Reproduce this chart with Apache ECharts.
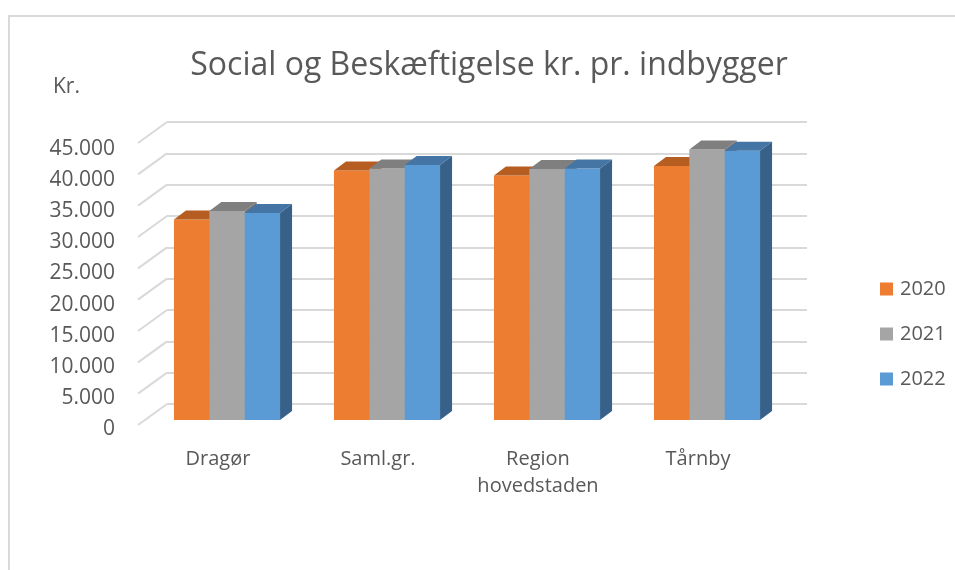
<!DOCTYPE html>
<html>
<head>
<meta charset="utf-8">
<script src="https://cdn.jsdelivr.net/npm/echarts@6/dist/echarts.min.js"></script>
<style>html,body{margin:0;padding:0;background:#fff}#c{width:955px;height:570px}</style>
</head>
<body>
<div id="c"></div>
<script>
// ---- data ----
const categories = ['Dragør', 'Saml.gr.', 'Region\nhovedstaden', 'Tårnby'];
const seriesNames = ['2020', '2021', '2022'];
const values2020 = [32000, 39800, 39000, 40550];
const values2021 = [33350, 40150, 40050, 43150];
const values2022 = [33050, 40700, 40150, 42950];
const yTicks = [0, 5000, 10000, 15000, 20000, 25000, 30000, 35000, 40000, 45000];
const titleText = 'Social og Beskæftigelse kr. pr. indbygger';
const unitText = 'Kr.';

// ---- styles ----
const FONT = '"Open Sans", "Noto Sans", sans-serif';
const TEXT = '#595959';
const GRID_LINE = '#d9d9d9';
const frontColors = ['#ED7D31', '#A5A5A5', '#5B9BD5'];
const topColors = ['#B65E21', '#7F7F7F', '#4475A5'];
const sideColors = ['#A9561E', '#747474', '#38618A'];
const FRONT = [-20, 16];   // bar front face offset from back wall plane
const DEPTH = [12, -9];    // bar depth vector
const WALL = [-29, 21];    // floor front edge offset from back wall

const yMin = yTicks[0], yMax = yTicks[yTicks.length - 1], yStep = yTicks[1] - yTicks[0];
const allValues = [values2020, values2021, values2022];

function fmt(v) { return String(v).replace(/\B(?=(\d{3})+(?!\d))/g, '.'); }

function barRenderer(si) {
  return function (params, api) {
    const cat = api.value(0), v = api.value(1);
    const base = api.coord([cat, 0]);
    const topP = api.coord([cat, v]);
    const band = api.size([1, 0])[0];
    const w = band * 0.221;
    const x0 = base[0] - 1.5 * w + si * w + FRONT[0];
    const x1 = x0 + w;
    const yb = base[1] + FRONT[1];
    const yt = topP[1] + FRONT[1];
    const dx = DEPTH[0], dy = DEPTH[1];
    return {
      type: 'group',
      children: [
        { type: 'rect', shape: { x: x0, y: yt, width: w, height: yb - yt }, style: { fill: frontColors[si] } },
        { type: 'polygon', shape: { points: [[x0, yt], [x1, yt], [x1 + dx, yt + dy], [x0 + dx, yt + dy]] }, style: { fill: topColors[si] } },
        { type: 'polygon', shape: { points: [[x1, yt], [x1, yb], [x1 + dx, yb + dy], [x1 + dx, yt + dy]] }, style: { fill: sideColors[si] } }
      ]
    };
  };
}

function diagRenderer(params, api) {
  const p = api.coord([0, api.value(1)]);
  const x = params.coordSys.x;
  return {
    type: 'line',
    shape: { x1: x + WALL[0], y1: p[1] + WALL[1], x2: x, y2: p[1] },
    style: { stroke: GRID_LINE, lineWidth: 2 }
  };
}

const chart = echarts.init(document.getElementById('c'), null, { renderer: 'canvas' });

const series = [{
  type: 'custom',
  name: 'grid-diagonals',
  xAxisIndex: 0, yAxisIndex: 0,
  silent: true,
  z: 1,
  renderItem: diagRenderer,
  data: yTicks.map(t => [0, t])
}];
seriesNames.forEach((n, si) => {
  series.push({
    type: 'custom',
    name: n,
    xAxisIndex: 0, yAxisIndex: 0,
    z: 2,
    itemStyle: { color: frontColors[si] },
    renderItem: barRenderer(si),
    data: allValues[si].map((v, i) => [i, v])
  });
});

chart.setOption({
  animation: false,
  backgroundColor: '#ffffff',
  title: {
    text: titleText,
    left: 489, top: 46, textAlign: 'center', padding: 0,
    textStyle: { fontFamily: FONT, fontSize: 32, fontWeight: 'normal', color: TEXT, lineHeight: 40 }
  },
  legend: {
    orient: 'vertical',
    left: 875, top: 274,
    itemWidth: 13, itemHeight: 13, itemGap: 25,
    icon: 'rect',
    data: seriesNames,
    textStyle: { fontFamily: FONT, fontSize: 20, color: TEXT, lineHeight: 20, padding: [0, 0, 0, 2] }
  },
  graphic: [
    { type: 'rect', silent: true, shape: { x: 9, y: 16, width: 1000, height: 600 }, style: { fill: 'none', stroke: GRID_LINE, lineWidth: 2 } },
    { type: 'text', left: 53, top: 77, style: { text: unitText, fontFamily: FONT, fontSize: 21, fill: TEXT } }
  ],
  grid: [
    { left: 167, right: 148, top: 122, bottom: 166 },
    { left: 138, right: 177, top: 149, bottom: 141 }
  ],
  xAxis: [
    { gridIndex: 0, type: 'category', data: categories, axisLine: { show: false }, axisTick: { show: false }, axisLabel: { show: false }, splitLine: { show: false } },
    { gridIndex: 1, type: 'category', data: categories, axisLine: { show: false }, axisTick: { show: false }, splitLine: { show: false },
      axisLabel: { interval: 0, margin: 17, fontFamily: FONT, fontSize: 20, color: TEXT, lineHeight: 27 } }
  ],
  yAxis: [
    { gridIndex: 0, type: 'value', min: yMin, max: yMax, interval: yStep,
      axisLine: { show: false }, axisTick: { show: false }, axisLabel: { show: false },
      splitLine: { show: true, lineStyle: { color: GRID_LINE, width: 2 } } },
    { gridIndex: 1, type: 'value', min: yMin, max: yMax, interval: yStep,
      axisLine: { show: false }, axisTick: { show: false }, splitLine: { show: false },
      axisLabel: { margin: 23, fontFamily: FONT, fontSize: 21, color: TEXT, formatter: fmt } }
  ],
  series: series
});
</script>
</body>
</html>
